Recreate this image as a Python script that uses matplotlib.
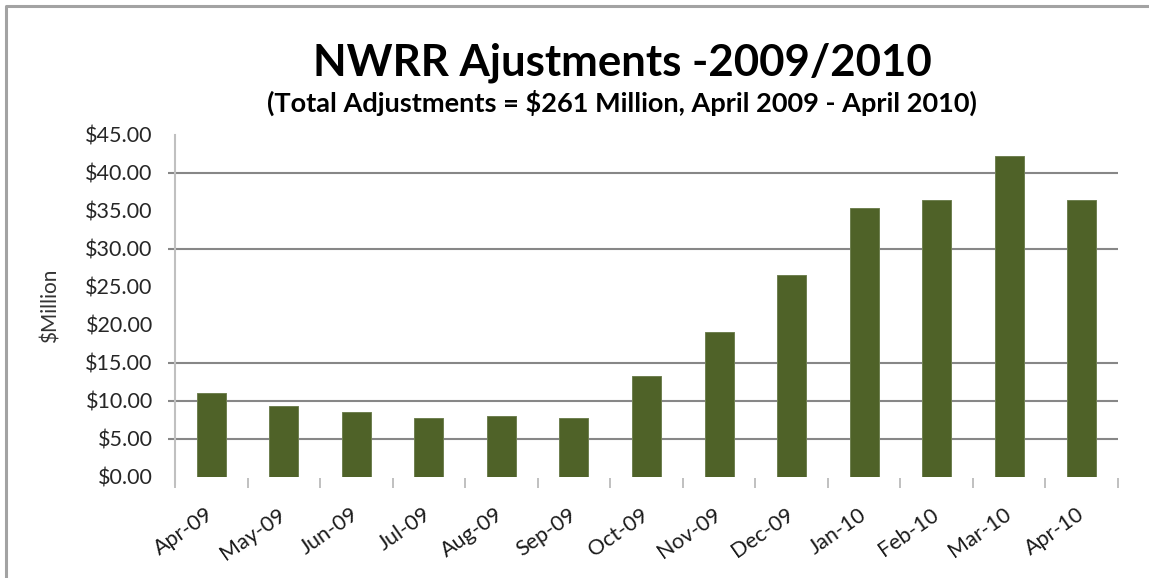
import matplotlib
matplotlib.use("Agg")
import matplotlib.pyplot as plt
from matplotlib.lines import Line2D
from matplotlib.transforms import blended_transform_factory

plt.rcParams["font.family"] = ["Lato", "DejaVu Sans"]

# Monthly adjustments, $ million
months = ["Apr-09", "May-09", "Jun-09", "Jul-09", "Aug-09", "Sep-09", "Oct-09",
          "Nov-09", "Dec-09", "Jan-10", "Feb-10", "Mar-10", "Apr-10"]
adjustments = [10.96, 9.25, 8.46, 7.67, 7.98, 7.67, 13.24,
               19.05, 26.57, 35.39, 36.35, 42.16, 36.35]
y_ticks = [0, 5, 10, 15, 20, 25, 30, 35, 40, 45]
grid_levels = [5, 10, 15, 30, 40]

BAR = "#4F6228"
GRID = "#878787"

fig = plt.figure(figsize=(11.49, 5.78), dpi=100)
ax = fig.add_axes([0.1523, 0.1756, 0.8207, 0.5917])

# spines first: moving a spine rebuilds the ticks
for side in ["top", "right", "left"]:
    ax.spines[side].set_visible(False)
ax.spines["bottom"].set_position(("outward", 1))
ax.spines["bottom"].set_color("none")

x = list(range(len(months)))
ax.bar(x, adjustments, width=0.4, color=BAR, edgecolor="#6f8050", linewidth=0.7, zorder=3)

# horizontal rules, running slightly left of the value axis
trans = blended_transform_factory(ax.transAxes, ax.transData)
ax.hlines(grid_levels, -0.0075, 1.0, transform=trans, colors=GRID,
          linewidth=1.5, clip_on=False, zorder=1)

ax.set_xlim(-0.5, len(months) - 0.5)
ax.set_ylim(0, 45)
ax.set_yticks(y_ticks)
ax.set_yticklabels([f"${v:.2f}" for v in y_ticks])
ax.tick_params(axis="y", length=0, pad=16, labelsize=15.5, labelcolor="#262626")

ax.set_xticks([i - 0.5 for i in range(len(months) + 1)], minor=True)
ax.tick_params(axis="x", which="minor", length=7, width=1.2, color="#b5b5b5")
ax.tick_params(axis="x", which="major", length=0, pad=25)
ax.set_xticks(x)
ax.set_xticklabels(months, rotation=35, ha="right", va="center",
                   rotation_mode="anchor", fontsize=15.5, color="#1a1a1a")

ax.add_line(Line2D([0, 0], [-0.022, 1.0], transform=ax.transAxes, color="#c0c0c0",
                   linewidth=1.5, clip_on=False))

ax.set_ylabel("$Million", fontsize=15, color="#333333")
ax.yaxis.set_label_coords(-0.121, 0.5)

fig.text(0.5417, 0.891, "NWRR Ajustments -2009/2010", ha="center", va="center",
         fontsize=31.5, fontweight="bold", color="black")
fig.text(0.5417, 0.822, "(Total Adjustments = $261 Million, April 2009 - April 2010)",
         ha="center", va="center", fontsize=19.5, fontweight="bold", color="black")

# chart frame (left and top edges)
bx, by = 6 / 1149, 1 - 6 / 578
fig.add_artist(Line2D([bx, bx, 1.0], [0.0, by, by], transform=fig.transFigure,
                      color="#a3a3a3", linewidth=2.2))

fig.savefig("out.png", dpi=100)
